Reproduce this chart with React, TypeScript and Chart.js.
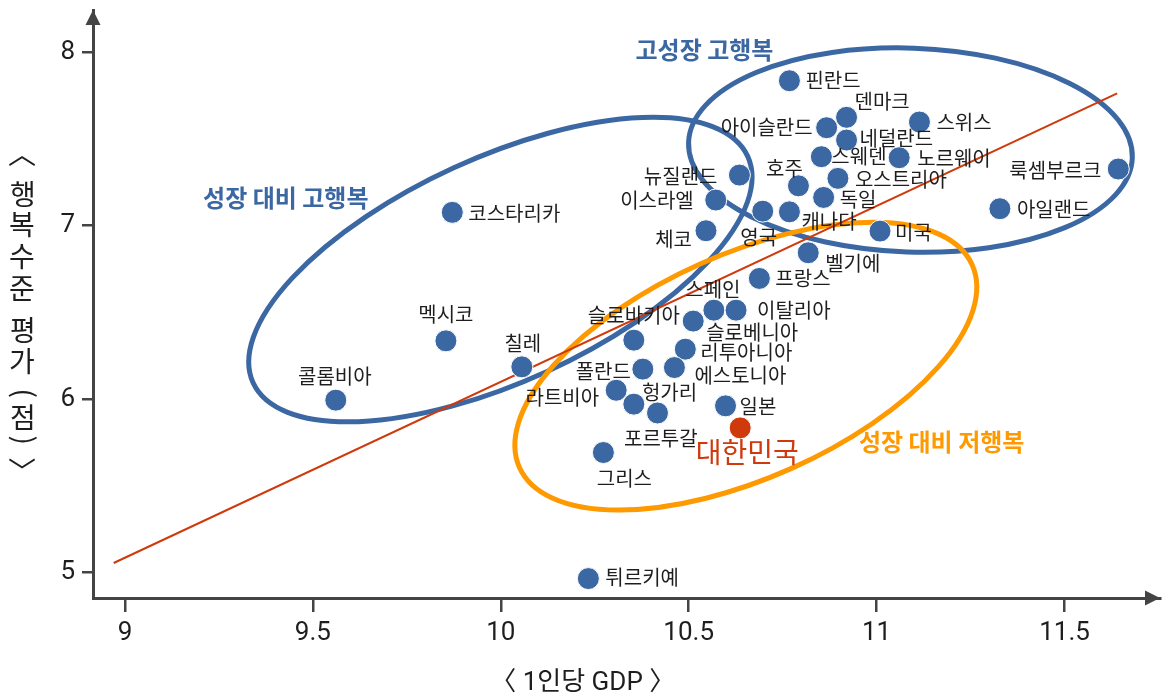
import React, { useEffect, useRef } from 'react';
import { Chart, registerables } from 'chart.js';

Chart.register(...registerables);

// ---------- data ----------
const countries = [
  '핀란드', '덴마크', '아이슬란드', '네덜란드', '스위스', '스웨덴', '노르웨이', '호주',
  '오스트리아', '독일', '캐나다', '영국', '뉴질랜드', '이스라엘', '체코', '미국',
  '벨기에', '프랑스', '룩셈부르크', '아일랜드', '코스타리카', '멕시코', '콜롬비아', '칠레',
  '스페인', '이탈리아', '슬로베니아', '슬로바키아', '리투아니아', '폴란드', '에스토니아', '라트비아',
  '포르투갈', '헝가리', '일본', '대한민국', '그리스', '튀르키예',
];
const gdpPerCapitaLog = [
  10.768, 10.920, 10.867, 10.920, 11.114, 10.853, 11.060, 10.792,
  10.897, 10.859, 10.768, 10.697, 10.635, 10.572, 10.546, 11.009,
  10.818, 10.688, 11.643, 11.328, 9.871, 9.854, 9.561, 10.056,
  10.567, 10.626, 10.512, 10.354, 10.491, 10.378, 10.462, 10.307,
  10.354, 10.417, 10.598, 10.637, 10.273, 10.233,
];
const happinessScore = [
  7.836, 7.625, 7.565, 7.494, 7.598, 7.398, 7.392, 7.230,
  7.273, 7.163, 7.080, 7.084, 7.292, 7.148, 6.971, 6.969,
  6.844, 6.696, 7.327, 7.098, 7.077, 6.336, 5.994, 6.186,
  6.513, 6.513, 6.450, 6.340, 6.288, 6.173, 6.182, 6.051,
  5.971, 5.920, 5.961, 5.834, 5.692, 4.965,
];
const highlightCountry = '대한민국';
const trendX = [8.97, 11.64];
const trendY = [5.055, 7.763];
const xTicks = [9, 9.5, 10, 10.5, 11, 11.5];
const yTicks = [5, 6, 7, 8];
const xTitle = '〈 1인당 GDP 〉';
const yTitle = '〈 행복수준 평가 (점) 〉';
const groupNames = ['고성장 고행복', '성장 대비 고행복', '성장 대비 저행복'];

// ---------- layout / style ----------
const BLUE = '#3b67a3';
const ORANGE = '#ff9900';
const RED = '#cf3a0c';
const AXIS = '#444444';
const TEXT = '#1e1e1e';
const KFONT = "'Noto Sans CJK KR', 'Noto Sans', sans-serif";
const NFONT = "Roboto, 'Noto Sans CJK KR', sans-serif";

// label offsets from the point in pixels: [dx, dy, align]
const labelLayout: [number, number, CanvasTextAlign][] = [
  [16, 0, 'left'], [8, -16, 'left'], [-14, 0, 'right'], [13, -2, 'left'],
  [17, 0, 'left'], [10, 0, 'left'], [18, 1, 'left'], [-14, -17, 'center'],
  [17, 1, 'left'], [16, 2, 'left'], [12, 10, 'left'], [-4, 26, 'center'],
  [-22, 1, 'right'], [-22, 0, 'right'], [-14, 9, 'right'], [15, 1, 'left'],
  [17, 11, 'left'], [16, 0, 'left'], [-17, 1, 'right'], [17, 1, 'left'],
  [16, 1, 'left'], [0, -26, 'center'], [-1, -24, 'center'], [1, -23, 'center'],
  [-1, -21, 'center'], [21, 0, 'left'], [13, 11, 'left'], [0, -25, 'center'],
  [15, 3, 'left'], [-12, 2, 'right'], [20, 8, 'left'], [-17, 7, 'right'],
  [27, 34, 'center'], [12, -21, 'center'], [14, 1, 'left'], [7, 24, 'center'],
  [21, 26, 'center'], [17, -1, 'left'],
];

// group annotations: anchor in data units
const groupAnchors = [
  { x: 10.542, y: 8.013, color: BLUE },
  { x: 9.428, y: 7.159, color: BLUE },
  { x: 11.173, y: 5.751, color: ORANGE },
];
// ellipses: center in data units, radii in px, rotation in degrees
const ellipses = [
  { cx: 11.090, cy: 7.436, rx: 222, ry: 102, angle: 2, color: BLUE },
  { cx: 9.999, cy: 6.747, rx: 272, ry: 112, angle: -24.6, color: BLUE },
  { cx: 10.652, cy: 6.190, rx: 248, ry: 112, angle: -24.1, color: ORANGE },
];

function drawCenteredGlyph(ctx: CanvasRenderingContext2D, ch: string, cx: number, cy: number, rotate: boolean) {
  ctx.save();
  ctx.translate(cx, cy);
  if (rotate) ctx.rotate(Math.PI / 2);
  ctx.textAlign = 'left';
  ctx.textBaseline = 'alphabetic';
  const m = ctx.measureText(ch);
  const gx = (m.actualBoundingBoxRight - m.actualBoundingBoxLeft) / 2;
  const gy = (m.actualBoundingBoxDescent - m.actualBoundingBoxAscent) / 2;
  ctx.fillText(ch, -gx, -gy);
  ctx.restore();
}

const overlayPlugin = {
  id: 'overlay',
  beforeDatasetsDraw(chart: any) {
    const { ctx, scales } = chart;
    const xs = scales.x;
    const ys = scales.y;
    ctx.save();
    for (const e of ellipses) {
      ctx.beginPath();
      ctx.ellipse(xs.getPixelForValue(e.cx), ys.getPixelForValue(e.cy), e.rx, e.ry, (e.angle * Math.PI) / 180, 0, Math.PI * 2);
      ctx.strokeStyle = e.color;
      ctx.lineWidth = 5;
      ctx.stroke();
    }
    ctx.restore();
  },
  afterDatasetsDraw(chart: any) {
    const { ctx } = chart;
    const meta = chart.getDatasetMeta(1);
    ctx.save();
    ctx.textBaseline = 'middle';
    countries.forEach((name, i) => {
      const el = meta.data[i];
      if (!el) return;
      const [dx, dy, align] = labelLayout[i];
      const isHi = name === highlightCountry;
      ctx.font = isHi ? `28px ${KFONT}` : `20px ${KFONT}`;
      ctx.fillStyle = isHi ? RED : TEXT;
      ctx.textAlign = align;
      ctx.fillText(name, el.x + dx, el.y + dy);
    });
    const xs = chart.scales.x;
    const ys = chart.scales.y;
    ctx.font = `bold 24px ${KFONT}`;
    ctx.textAlign = 'center';
    groupNames.forEach((g, i) => {
      const a = groupAnchors[i];
      ctx.fillStyle = a.color;
      ctx.fillText(g, xs.getPixelForValue(a.x), ys.getPixelForValue(a.y));
    });
    ctx.restore();
  },
  afterDraw(chart: any) {
    const { ctx, chartArea } = chart;
    const { left, top, right, bottom } = chartArea;
    ctx.save();
    ctx.fillStyle = AXIS;
    // y arrow
    ctx.beginPath();
    ctx.moveTo(left, top);
    ctx.lineTo(left - 7.5, top + 15);
    ctx.lineTo(left + 7.5, top + 15);
    ctx.closePath();
    ctx.fill();
    // x arrow
    ctx.beginPath();
    ctx.moveTo(right, bottom);
    ctx.lineTo(right - 15, bottom - 7.5);
    ctx.lineTo(right - 15, bottom + 7.5);
    ctx.closePath();
    ctx.fill();

    // x title
    const xs = chart.scales.x;
    ctx.fillStyle = TEXT;
    ctx.font = `26px ${NFONT}`;
    ctx.textAlign = 'center';
    ctx.textBaseline = 'middle';
    ctx.fillText(xTitle, (xs.getPixelForValue(xTicks[0]) + xs.getPixelForValue(xTicks[xTicks.length - 1])) / 2 - 12, bottom + 85);

    // y title (vertical, stacked)
    ctx.font = `28px ${KFONT}`;
    let yPos = 154;
    const cx = 22;
    for (const ch of yTitle) {
      if (ch === ' ') { yPos += 10; continue; }
      const isBracket = ch === '〈' || ch === '〉';
      const isParen = ch === '(' || ch === ')';
      const adv = isBracket ? 14 : isParen ? 14 : 31.5;
      drawCenteredGlyph(ctx, ch, cx, yPos + adv / 2, isBracket || isParen);
      yPos += adv;
    }
    ctx.restore();
  },
};

const zeroPad = (s: any) => {
  s.paddingTop = 0;
  s.paddingBottom = 0;
  s.paddingLeft = 0;
  s.paddingRight = 0;
};

export default function App() {
  const ref = useRef<HTMLCanvasElement | null>(null);
  useEffect(() => {
    document.body.style.margin = '0';
    const canvas = ref.current;
    if (!canvas) return;
    const points = countries.map((_, i) => ({ x: gdpPerCapitaLog[i], y: happinessScore[i] }));
    const trend = trendX.map((x, i) => ({ x, y: trendY[i] }));
    const chart = new Chart(canvas, {
      type: 'scatter',
      data: {
        datasets: [
          {
            type: 'line',
            label: 'trend',
            data: trend,
            borderColor: RED,
            borderWidth: 2,
            pointRadius: 0,
            fill: false,
            order: 2,
          } as any,
          {
            label: 'OECD',
            data: points,
            backgroundColor: countries.map((c) => (c === highlightCountry ? RED : BLUE)),
            borderColor: '#ffffff',
            borderWidth: 1,
            pointRadius: 11,
            order: 1,
          },
        ],
      },
      options: {
        responsive: false,
        maintainAspectRatio: false,
        animation: false,
        layout: { autoPadding: false, padding: { left: 0, top: 10, right: 4, bottom: 0 } },
        plugins: { legend: { display: false }, tooltip: { enabled: false }, title: { display: false } },
        scales: {
          x: {
            type: 'linear',
            min: 8.915,
            max: 11.754,
            afterBuildTicks: (s: any) => { s.ticks = xTicks.map((v) => ({ value: v })); },
            afterFit: (s: any) => { s.height = 99; zeroPad(s); },
            grid: { drawOnChartArea: false, drawTicks: true, tickLength: 14, color: AXIS, lineWidth: 2.5 },
            border: { display: true, color: AXIS, width: 3 },
            ticks: {
              font: { family: 'Roboto', size: 26 },
              color: TEXT,
              padding: 6,
              maxRotation: 0,
              autoSkip: false,
              callback: (v: any) => String(v),
            },
          },
          y: {
            type: 'linear',
            min: 4.853,
            max: 8.244,
            afterBuildTicks: (s: any) => { s.ticks = yTicks.map((v) => ({ value: v })); },
            afterFit: (s: any) => { s.width = 93; zeroPad(s); },
            grid: { drawOnChartArea: false, drawTicks: true, tickLength: 11, color: AXIS, lineWidth: 2.5 },
            border: { display: true, color: AXIS, width: 3 },
            ticks: {
              font: { family: 'Roboto', size: 26 },
              color: TEXT,
              padding: 7,
              autoSkip: false,
              callback: (v: any) => String(v),
            },
          },
        },
      },
      plugins: [overlayPlugin],
    });
    return () => chart.destroy();
  }, []);
  return <canvas ref={ref} width={1164} height={697} style={{ display: 'block', width: 1164, height: 697 }} />;
}
